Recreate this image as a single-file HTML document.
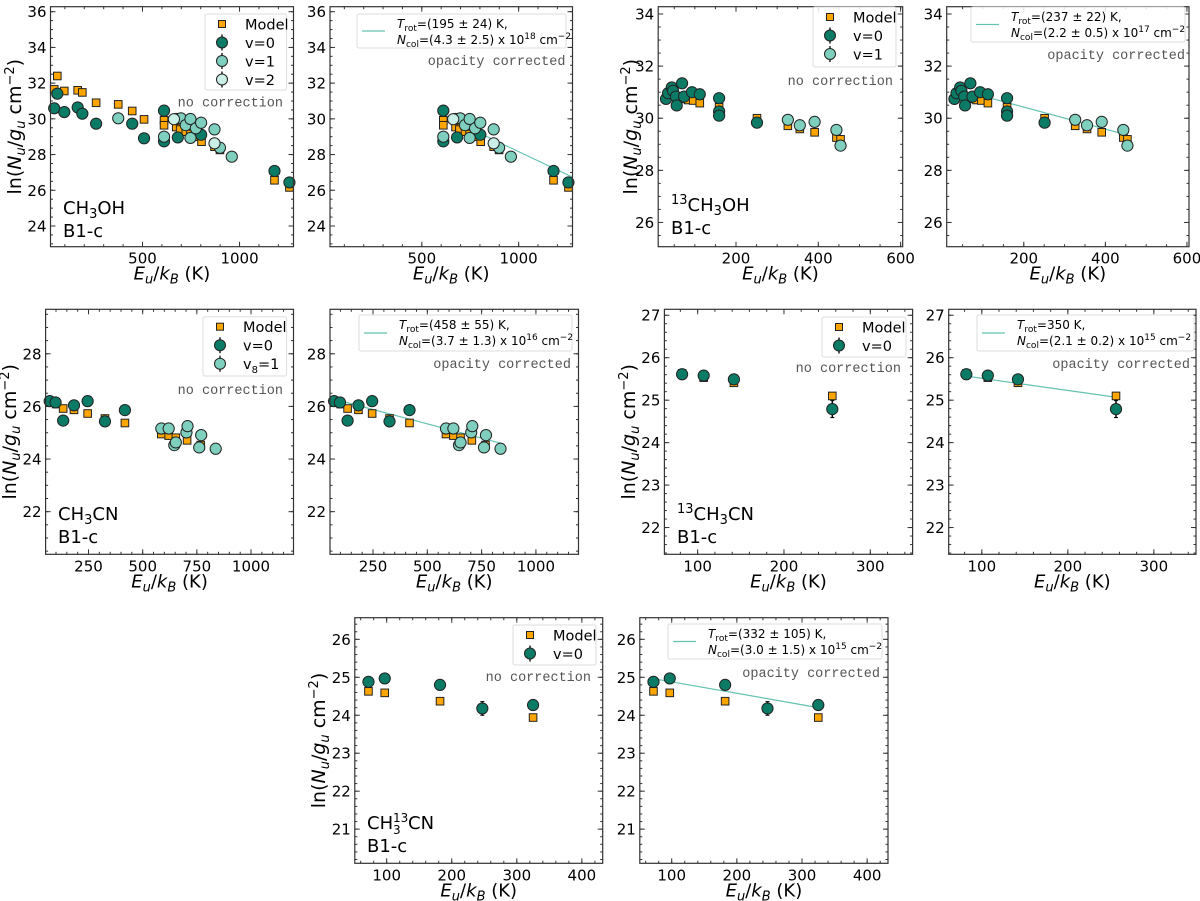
<!DOCTYPE html>
<html><head><meta charset="utf-8"><style>
html,body{margin:0;padding:0;background:#fff;}
svg{display:block;font-family:"DejaVu Sans","Liberation Sans",sans-serif;}
</style></head><body>
<svg id="fig" width="1200" height="901" viewBox="0 0 1200 901" xmlns="http://www.w3.org/2000/svg"></svg>
<script>
// ---- CH3OH ----
const ch3ohModelE=[45,61,97,166,190,261,375,447,508,611,611,674,694,723,747,775,804,871,899,1180,1257];
const ch3ohModelLn=[31.65,32.4,31.56,31.6,31.48,30.9,30.81,30.44,29.97,29.92,29.64,29.54,29.4,29.28,29.15,29.0,28.72,28.44,28.26,26.56,26.16];
const ch3ohV0E=[45,61,97,166,190,261,447,508,611,611,682,802,1180,1257];
const ch3ohV0Ln=[30.59,31.41,30.38,30.64,30.29,29.73,29.73,28.91,30.46,28.74,28.96,29.11,27.08,26.44];
const ch3ohV1E=[375,611,674,698,723,747,747,775,802,871,899,960];
const ch3ohV1Ln=[30.03,29.0,29.99,30.03,29.65,29.99,28.93,29.47,29.78,29.41,28.38,27.88];
const ch3ohV2E=[662,871];
const ch3ohV2Ln=[29.98,28.63];
const ch3ohTrot=195, ch3ohFitA=33.29, ch3ohFitRange=[610,1278];
// ---- 13CH3OH ----
const c13ohModelE=[47,65,84,96,112,159,251,326,355,391,444,454];
const c13ohModelLn=[30.93,30.74,30.70,30.68,30.58,30.42,30.0,29.71,29.59,29.46,29.26,29.19];
const c13ohV0E=[30,35,44,47,54,56,69,74,93,112,159,159,159,251];
const c13ohV0Ln=[30.74,30.96,31.18,31.05,30.83,30.49,31.34,30.83,31.0,30.92,30.77,30.26,30.1,29.83];
const c13ohV1E=[326,355,391,444,454];
const c13ohV1Ln=[29.94,29.73,29.86,29.55,28.95];
const c13ohTrot=237, c13ohFitA=31.27, c13ohFitRange=[110,455];
// ---- CH3CN ----
const ch3cnModelE=[71,101,133,183,246,326,418,586,620,653,705,768];
const ch3cnModelLn=[26.18,26.09,25.92,25.87,25.73,25.54,25.37,24.95,24.89,24.81,24.71,24.53];
const ch3cnV0E=[71,98,133,183,246,326,418];
const ch3cnV0Ln=[26.2,26.15,25.46,26.04,26.2,25.43,25.86];
const ch3cnV8E=[586,620,646,653,702,707,761,770,837];
const ch3cnV8Ln=[25.16,25.16,24.53,24.63,25.01,25.25,24.44,24.91,24.39];
const ch3cnTrot=458, ch3cnFitA=26.43, ch3cnFitRange=[55,840];
// ---- 13CH3CN ----
const c13cnModelE=[82,107,142,256];
const c13cnModelLn=[25.63,25.53,25.41,25.1];
const c13cnV0E=[82,107,142,256];
const c13cnV0Ln=[25.61,25.58,25.49,24.79];
const c13cnV0Err=[0.1,0.12,0.1,0.2];
const c13cnTrot=350, c13cnFitA=25.80, c13cnFitRange=[82,256];
// ---- CH3 13CN ----
const cn13ModelE=[72,97,182,325];
const cn13ModelLn=[24.63,24.59,24.37,23.94];
const cn13V0E=[72,97,182,247,325];
const cn13V0Ln=[24.88,24.97,24.8,24.18,24.27];
const cn13V0Err=[0.08,0.08,0.1,0.18,0.1];
const cn13Trot=332, cn13FitA=25.18, cn13FitRange=[72,325];

const NS="http://www.w3.org/2000/svg";
const svg=document.getElementById('fig');
const C_ORANGE="#ffa500",C_V0="#0b7b66",C_V1="#7fcfbf",C_V2="#c9efe7",C_FIT="#66c2b0";
function mk(tag,attrs,parent){const e=document.createElementNS(NS,tag);for(const k in attrs)e.setAttribute(k,attrs[k]);(parent||svg).appendChild(e);return e;}

function panel(p){
  const g=mk('g',{});
  
  
  const sx=v=>p.l+(v-p.xl[0])/(p.xl[1]-p.xl[0])*(p.r-p.l);
  const sy=v=>p.b-(v-p.yl[0])/(p.yl[1]-p.yl[0])*(p.b-p.t);
  const tg=mk('g',{stroke:'#333','stroke-width':1},g);
  
  
  for(let v=Math.ceil(p.xl[0]/p.xmin)*p.xmin;v<=p.xl[1];v+=p.xmin){const x=sx(v);mk('line',{x1:x,x2:x,y1:p.b,y2:p.b-2.5},tg);mk('line',{x1:x,x2:x,y1:p.t,y2:p.t+2.5},tg);}
  for(let v=Math.ceil(p.yl[0]/p.ymin-1e-9)*p.ymin;v<=p.yl[1]+1e-9;v+=p.ymin){const y=sy(v);mk('line',{x1:p.l,x2:p.l+2.5,y1:y,y2:y},tg);mk('line',{x1:p.r,x2:p.r-2.5,y1:y,y2:y},tg);}
  p.xt.forEach(v=>{const x=sx(v);mk('line',{x1:x,x2:x,y1:p.b,y2:p.b-5},tg);mk('line',{x1:x,x2:x,y1:p.t,y2:p.t+5},tg);
    const t=mk('text',{x:x,y:p.b+17,'font-size':15,'text-anchor':'middle',fill:'#000'},g);t.textContent=v;
    });
  p.yt.forEach(v=>{const y=sy(v);mk('line',{x1:p.l,x2:p.l+5,y1:y,y2:y},tg);mk('line',{x1:p.r,x2:p.r-5,y1:y,y2:y},tg);
    const t=mk('text',{x:p.l-4,y:y+5.5,'font-size':15,'text-anchor':'end',fill:'#000'},g);t.textContent=v;
    });
  if(p.fit){const f=p.fit;const ln=mk('line',{x1:sx(f.r[0]),y1:sy(f.a-f.r[0]/f.T),x2:sx(f.r[1]),y2:sy(f.a-f.r[1]/f.T),stroke:C_FIT,'stroke-width':1.2},g);
    }
  p.series.forEach(s=>{
    const sg=mk('g',{},g);
    
    
    s.x.forEach((xv,i)=>{
      if(p.minE!==undefined && xv<p.minE) return;
      const x=sx(xv),y=sy(s.y[i]);
      if(s.err){const e=s.err[i];mk('line',{x1:x,x2:x,y1:sy(s.y[i]-e),y2:sy(s.y[i]+e),stroke:'#000','stroke-width':1.5},sg);
        mk('line',{x1:x-2,x2:x+2,y1:sy(s.y[i]-e),y2:sy(s.y[i]-e),stroke:'#000'},sg);mk('line',{x1:x-2,x2:x+2,y1:sy(s.y[i]+e),y2:sy(s.y[i]+e),stroke:'#000'},sg);}
      let m;
      if(s.sq) m=mk('rect',{x:x-3.8,y:y-3.8,width:7.6,height:7.6,fill:s.c,stroke:'#222','stroke-width':1},sg);
      else m=mk('circle',{cx:x,cy:y,r:5.6,fill:s.c,stroke:'#222','stroke-width':1},sg);
      
      
    });
  });
  const fr=mk('rect',{x:p.l,y:p.t,width:p.r-p.l,height:p.b-p.t,fill:'none',stroke:'#333','stroke-width':1.2},g);
  
  const xl=mk('text',{x:(p.l+p.r)/2,y:p.b+33,'font-size':18,'text-anchor':'middle'},g);
  xl.innerHTML='<tspan font-style="italic">E</tspan><tspan font-size="13" dy="4" font-style="italic">u</tspan><tspan dy="-4">/</tspan><tspan font-style="italic">k</tspan><tspan font-size="13" dy="4" font-style="italic">B</tspan><tspan dy="-4"> (K)</tspan>';
  
  if(p.ylab!==undefined){const cy=(p.t+p.b)/2;const yl=mk('text',{x:0,y:0,'font-size':19,'text-anchor':'middle',transform:`translate(${p.ylab+6},${cy}) rotate(-90)`},g);
    yl.innerHTML='ln(<tspan font-style="italic">N</tspan><tspan font-size="13" dy="4" font-style="italic">u</tspan><tspan dy="-4">/</tspan><tspan font-style="italic">g</tspan><tspan font-size="13" dy="4" font-style="italic">u</tspan><tspan dy="-4"> cm</tspan><tspan font-size="13" dy="-7">−2</tspan><tspan dy="7">)</tspan>';
    }
  if(p.note){const n=mk('text',{x:p.note[1],y:p.note[2]+5,'font-size':13.5,'text-anchor':'end',fill:'#555','font-family':'"Liberation Mono",monospace'},g);n.textContent=p.note[0];
    }
  if(p.species){const s=mk('text',{x:p.species[1],y:p.species[2],'font-size':18},g);s.innerHTML=p.species[0];
    
    const s2=mk('text',{x:p.species[1],y:p.species[2]+23,'font-size':18},g);s2.textContent='B1-c';
    }
  if(p.leg){const L=p.leg;const lg=mk('g',{},g);
    
    mk('rect',{x:L.x0,y:L.y0,width:L.x1-L.x0,height:L.y1-L.y0,fill:'#fff','fill-opacity':0.85,stroke:'#ddd',rx:2},lg);
    L.items.forEach((it,i)=>{const y=L.y0+10+i*18.5;const mx=L.x0+17;
      if(it.sq) mk('rect',{x:mx-3.5,y:y-3.5,width:7,height:7,fill:it.c,stroke:'#222'},lg);
      else {mk('line',{x1:mx,x2:mx,y1:y-8,y2:y+8,stroke:'#000','stroke-width':1.3},lg);mk('circle',{cx:mx,cy:y,r:5.5,fill:it.c,stroke:'#222'},lg);}
      const t=mk('text',{x:L.x0+40,y:y+5.5,'font-size':14.5},lg);t.innerHTML=it.t;
      });}
  if(p.fitleg){const L=p.fitleg;const lg=mk('g',{},g);
    
    mk('rect',{x:L.x0,y:L.y0,width:L.x1-L.x0,height:L.y1-L.y0,fill:'#fff','fill-opacity':0.85,stroke:'#ddd',rx:2},lg);
    const ym=(L.y0+L.y1)/2;mk('line',{x1:L.x0+5,x2:L.x0+28,y1:ym,y2:ym,stroke:C_FIT,'stroke-width':1.2},lg);
    const t1=mk('text',{x:L.x0+40,y:L.y0+14,'font-size':12},lg);t1.innerHTML='<tspan font-style="italic">T</tspan><tspan font-size="9" dy="3">rot</tspan><tspan dy="-3">='+L.t1+'</tspan>';
    const t2=mk('text',{x:L.x0+40,y:L.y0+30,'font-size':12},lg);t2.innerHTML='<tspan font-style="italic">N</tspan><tspan font-size="9" dy="3">col</tspan><tspan dy="-3">='+L.t2+' x 10</tspan><tspan font-size="9" dy="-5">'+L.exp+'</tspan><tspan dy="5"> cm</tspan><tspan font-size="9" dy="-5">−2</tspan>';
    
    }
}

const legCH3OH=[{sq:1,c:C_ORANGE,t:'Model'},{c:C_V0,t:'v=0'},{c:C_V1,t:'v=1'},{c:C_V2,t:'v=2'}];
const legC13OH=[{sq:1,c:C_ORANGE,t:'Model'},{c:C_V0,t:'v=0'},{c:C_V1,t:'v=1'}];
const legCH3CN=[{sq:1,c:C_ORANGE,t:'Model'},{c:C_V0,t:'v=0'},{c:C_V1,t:'v<tspan font-size="10" dy="4">8</tspan><tspan dy="-4">=1</tspan>'}];
const legV0=[{sq:1,c:C_ORANGE,t:'Model'},{c:C_V0,t:'v=0'}];

const sOH=[{name:'model',sq:1,c:C_ORANGE,x:ch3ohModelE,y:ch3ohModelLn},{name:'v0',c:C_V0,x:ch3ohV0E,y:ch3ohV0Ln},{name:'v1',c:C_V1,x:ch3ohV1E,y:ch3ohV1Ln},{name:'v2',c:C_V2,x:ch3ohV2E,y:ch3ohV2Ln}];
const s13OH=[{name:'model',sq:1,c:C_ORANGE,x:c13ohModelE,y:c13ohModelLn},{name:'v0',c:C_V0,x:c13ohV0E,y:c13ohV0Ln},{name:'v1',c:C_V1,x:c13ohV1E,y:c13ohV1Ln}];
const sCN=[{name:'model',sq:1,c:C_ORANGE,x:ch3cnModelE,y:ch3cnModelLn},{name:'v0',c:C_V0,x:ch3cnV0E,y:ch3cnV0Ln},{name:'v8-1',c:C_V1,x:ch3cnV8E,y:ch3cnV8Ln}];
const s13CN=[{name:'model',sq:1,c:C_ORANGE,x:c13cnModelE,y:c13cnModelLn},{name:'v0',c:C_V0,x:c13cnV0E,y:c13cnV0Ln,err:c13cnV0Err}];
const sCN13=[{name:'model',sq:1,c:C_ORANGE,x:cn13ModelE,y:cn13ModelLn},{name:'v0',c:C_V0,x:cn13V0E,y:cn13V0Ln,err:cn13V0Err}];

const r1={t:6.7,b:246.7}, r2={t:309.3,b:554.3}, r3={t:617.7,b:863.3};
const axOH={xl:[26,1278],yl:[22.84,36.28],xt:[500,1000],yt:[24,26,28,30,32,34,36],xmin:100,ymin:0.5};
const ax13OH={xl:[11,605],yl:[25.07,34.28],xt:[200,400,600],yt:[26,28,30,32,34],xmin:50,ymin:0.5};
const axCN={xl:[52,1196],yl:[20.38,29.69],xt:[250,500,750,1000],yt:[22,24,26,28],xmin:50,ymin:0.5};
const ax13CN={xl:[61.5,349],yl:[21.37,27.14],xt:[100,200,300],yt:[22,23,24,25,26,27],xmin:20,ymin:0.2};
const axCN13={xl:[51,432],yl:[20.1,26.57],xt:[100,200,300,400],yt:[21,22,23,24,25,26],xmin:20,ymin:0.2};

panel(Object.assign({name:'panel-ch3oh-uncorrected',l:50.5,r:293.5,...r1,series:sOH,ylab:15,note:['no correction',283,101.7],species:['CH<tspan font-size="13" dy="4">3</tspan><tspan dy="-4">OH</tspan>',63,214],leg:{x0:205,y0:14,x1:286.6,y1:90,items:legCH3OH}},axOH));
panel(Object.assign({name:'panel-ch3oh-corrected',l:330,r:572.5,...r1,series:sOH,minE:600,note:['opacity corrected',565.5,60],fit:{T:ch3ohTrot,a:ch3ohFitA,r:ch3ohFitRange},fitleg:{x0:357,y0:14,x1:566,y1:48,t1:'(195 ± 24) K,',t2:'(4.3 ± 2.5)',exp:'18'}},axOH));
panel(Object.assign({name:'panel-13ch3oh-uncorrected',l:658.2,r:902.7,...r1,series:s13OH,ylab:631,note:['no correction',893,80],species:['<tspan font-size="13" dy="-7">13</tspan><tspan dy="7">CH</tspan><tspan font-size="13" dy="4">3</tspan><tspan dy="-4">OH</tspan>',671,211],leg:{x0:813,y0:7,x1:896,y1:67,items:legC13OH}},ax13OH));
panel(Object.assign({name:'panel-13ch3oh-corrected',l:946.7,r:1189,...r1,series:s13OH,note:['opacity corrected',1185,54],fit:{T:c13ohTrot,a:c13ohFitA,r:c13ohFitRange},fitleg:{x0:971,y0:7,x1:1185,y1:42,t1:'(237 ± 22) K,',t2:'(2.2 ± 0.5)',exp:'17'}},ax13OH));
panel(Object.assign({name:'panel-ch3cn-uncorrected',l:45.6,r:293.5,...r2,series:sCN,ylab:10,note:['no correction',283,389],species:['CH<tspan font-size="13" dy="4">3</tspan><tspan dy="-4">CN</tspan>',58,520],leg:{x0:203,y0:316.7,x1:286.6,y1:376,items:legCH3CN}},axCN));
panel(Object.assign({name:'panel-ch3cn-corrected',l:330,r:578.5,...r2,series:sCN,note:['opacity corrected',571,363],fit:{T:ch3cnTrot,a:ch3cnFitA,r:ch3cnFitRange},fitleg:{x0:359,y0:315,x1:572,y1:351,t1:'(458 ± 55) K,',t2:'(3.7 ± 1.3)',exp:'16'}},axCN));
panel(Object.assign({name:'panel-13ch3cn-uncorrected',l:664.4,r:912.6,...r2,series:s13CN,ylab:629,note:['no correction',901,367],species:['<tspan font-size="13" dy="-7">13</tspan><tspan dy="7">CH</tspan><tspan font-size="13" dy="4">3</tspan><tspan dy="-4">CN</tspan>',677,520],leg:{x0:822,y0:317,x1:906,y1:357,items:legV0}},ax13CN));
panel(Object.assign({name:'panel-13ch3cn-corrected',l:948.7,r:1196,...r2,series:s13CN,note:['opacity corrected',1190,363],fit:{T:c13cnTrot,a:c13cnFitA,r:c13cnFitRange},fitleg:{x0:977,y0:315,x1:1194,y1:351,t1:'350 K,',t2:'(2.1 ± 0.2)',exp:'15'}},ax13CN));
panel(Object.assign({name:'panel-ch3-13cn-uncorrected',l:354.8,r:602.7,...r3,series:sCN13,ylab:319,note:['no correction',591,676],species:['CH<tspan font-size="12" x="393" dy="-7">13</tspan><tspan font-size="12" x="393" dy="12">3</tspan><tspan x="408" dy="-5">CN</tspan>',367,829],leg:{x0:513,y0:625,x1:596,y1:665,items:legV0}},axCN13));
panel(Object.assign({name:'panel-ch3-13cn-corrected',l:639.8,r:888,...r3,series:sCN13,note:['opacity corrected',880,672],fit:{T:cn13Trot,a:cn13FitA,r:cn13FitRange},fitleg:{x0:668,y0:624,x1:882,y1:659,t1:'(332 ± 105) K,',t2:'(3.0 ± 1.5)',exp:'15'}},axCN13));
</script>
</body></html>
